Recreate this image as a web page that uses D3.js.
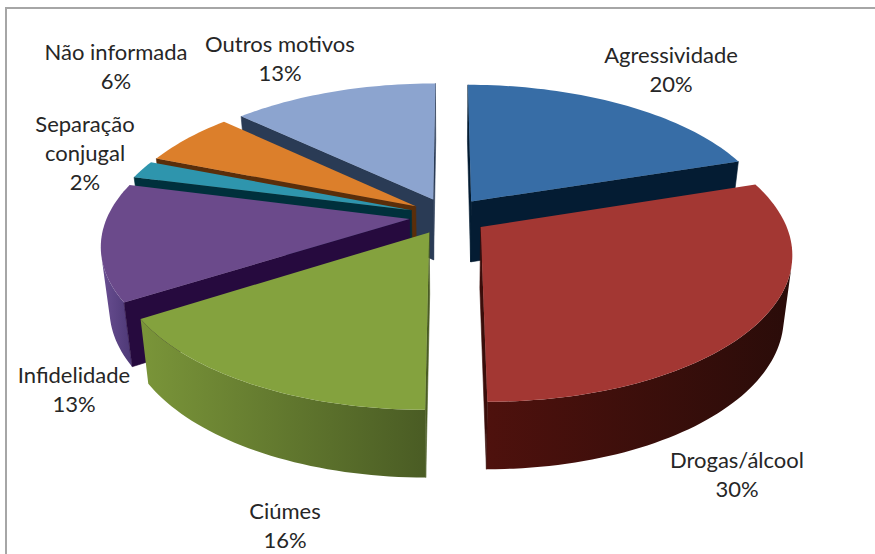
<!DOCTYPE html>
<html><head><meta charset="utf-8">
<script src="https://cdn.jsdelivr.net/npm/d3@7"></script>
<style>html,body{margin:0;padding:0;background:#fff}svg{display:block}</style>
</head><body><svg id="c" width="875" height="554"></svg>
<script>
const categories = ["Agressividade","Drogas/álcool","Ciúmes","Infidelidade","Separação conjugal","Não informada","Outros motivos"];
const values = [20,30,16,13,2,6,13];
const topColors = ["#376da6","#a33733","#84a23e","#6b4a8b","#2e95ad","#dc7f2b","#8ca4cf"];
const cutColors = ["#041c33","#3a0d0a","#4a5c24","#260a3e","#00303c","#5a2e0a","#2a3b55"];
const wallFrom = ["#0a2a4c","#4e110d","#7a9539","#6a4f92","#1f6a7c","#9a5a1e","#5f7299"];
const wallTo = ["#041c33","#2a0c09","#4a5c24","#4f3a78","#1f6a7c","#9a5a1e","#5f7299"];
const labelLines = [["Agressividade","20%"],["Drogas/álcool","30%"],["Ciúmes","16%"],["Infidelidade","13%"],["Separação","conjugal","2%"],["Não informada","6%"],["Outros motivos","13%"]];
const labelAnchors = [[671,56],[737,461],[285,512],[74,376],[85,125],[116,53],[280,45]];

const W=875,H=554,cx=448.5,cy=216,Rx=302,Ry=141,depth=61,persp=0.17,explode=0.13,taper=0.025;
const svg=d3.select("#c");
const defs=svg.append("defs");
svg.append("rect").attr("x",6).attr("y",8).attr("width",W+10).attr("height",H+10)
  .attr("fill","#fff").attr("stroke","#a6a6a6").attr("stroke-width",2);

const arcs=d3.pie().sort(null).value(d=>d).startAngle(0).endAngle(2*Math.PI)(values);

// project a point of a slice's disc (angle a, radius r), h = 0 top, 1 bottom
function project(arc,a,r,h){
  const m=(arc.startAngle+arc.endAngle)/2;
  const u=r*Math.sin(a)+explode*Math.sin(m);
  const v=r*Math.cos(a)+explode*Math.cos(m);
  const s=1/(1+persp*v);
  return [cx+Rx*u*s*(1-taper*h), cy-Ry*v*s+h*depth*Math.sqrt(s)];
}
const line=d3.line();
const order=d3.range(arcs.length).sort((i,j)=>{
  const f=k=>Math.cos((arcs[k].startAngle+arcs[k].endAngle)/2);
  return f(j)-f(i);
});
order.forEach(i=>{
  const arc=arcs[i];
  const g=svg.append("g");
  const n=Math.max(6,Math.round((arc.endAngle-arc.startAngle)*40));
  const angs=d3.range(n+1).map(k=>arc.startAngle+(arc.endAngle-arc.startAngle)*k/n);
  const rim=h=>angs.map(a=>project(arc,a,1,h));
  const top=rim(0),bottom=rim(1);
  // outer wall: contiguous runs of segments facing the viewer, as one shape
  const xs=top.map(p=>p[0]);
  const id="wall"+i;
  const gr=defs.append("linearGradient").attr("id",id).attr("gradientUnits","userSpaceOnUse")
    .attr("x1",d3.min(xs)).attr("x2",d3.max(xs)).attr("y1",0).attr("y2",0);
  gr.append("stop").attr("offset",0).attr("stop-color",wallFrom[i]);
  gr.append("stop").attr("offset",1).attr("stop-color",wallTo[i]);
  let run=[];
  const flush=()=>{
    if(run.length>1){
      const t=run.map(k=>top[k]),b=run.map(k=>bottom[k]).reverse();
      g.append("path").attr("d",line(t.concat(b))+"Z").attr("fill",`url(#${id})`);
    }
    run=[];
  };
  d3.range(n).forEach(k=>{
    const q=[top[k],top[k+1],bottom[k+1],bottom[k]];
    if(d3.polygonArea(q)>0){ if(!run.length) run.push(k); run.push(k+1); }
    else flush();
  });
  flush();
  // radial cut faces facing the viewer
  [[arc.endAngle,-1],[arc.startAngle,1]].forEach(([a,sign])=>{
    const q=[project(arc,a,0,0),project(arc,a,1,0),project(arc,a,1,1),project(arc,a,0,1)];
    if(d3.polygonArea(q)*sign>0)
      g.append("path").attr("d",line(q)+"Z").attr("fill",cutColors[i]).attr("stroke",cutColors[i]).attr("stroke-width",.6);
  });
  // top face
  g.append("path").attr("d",line([project(arc,0,0,0)].concat(top))+"Z").attr("fill",topColors[i]);
});

const labels=svg.append("g").attr("font-family","Lato, 'Open Sans', sans-serif").attr("font-size",22).attr("fill","#262626").attr("text-anchor","middle");
labelLines.forEach((ls,i)=>{
  ls.forEach((t,k)=>{
    labels.append("text").attr("x",labelAnchors[i][0]).attr("y",labelAnchors[i][1]+k*29+7).text(t);
  });
});
</script></body></html>
